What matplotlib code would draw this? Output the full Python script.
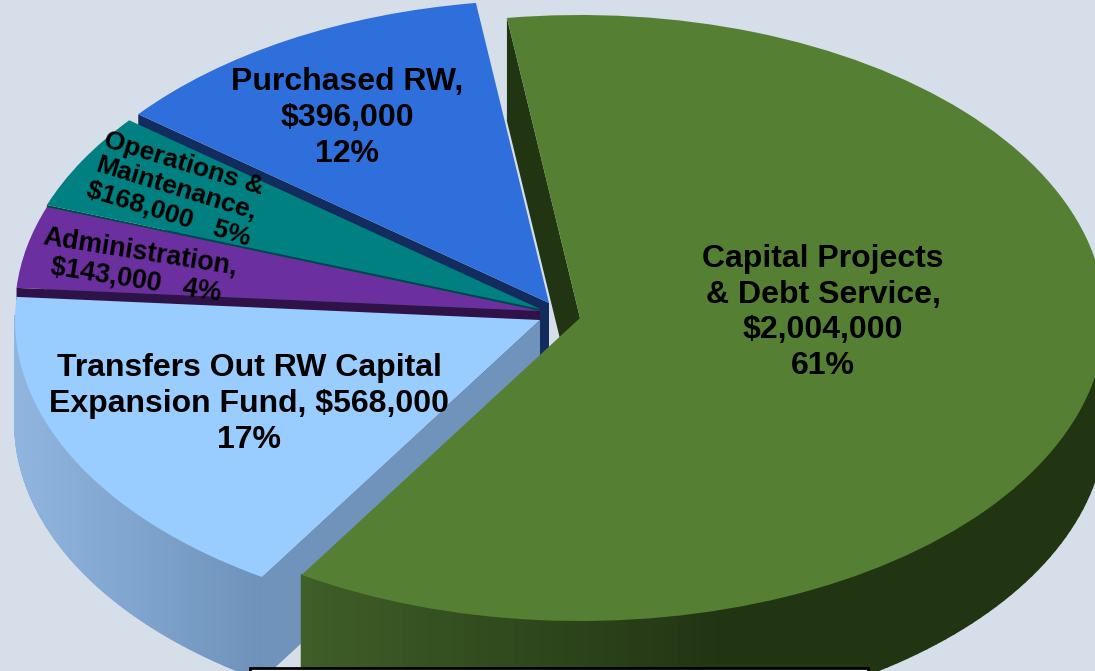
import numpy as np
import matplotlib
matplotlib.use("Agg")
import matplotlib.pyplot as plt
from matplotlib.collections import PolyCollection
from matplotlib.colors import to_rgb
from matplotlib.patches import Polygon, Rectangle

# slices, clockwise from the top
names = ["Capital Projects", "Transfers Out", "Administration", "Operations", "Purchased RW"]
values = [2004000, 568000, 143000, 168000, 396000]

top_colors = ["#558033", "#99CCFF", "#6B2FA0", "#008080", "#2F6FDB"]
side_colors = ["#223513", "#7093BC", "#2F1247", "#004848", "#122C5E"]
# outer wall gradient, left to right in pixels
rim_start = ["#3F5E28", "#90B6E0", "#2F1247", "#004848", "#122C5E"]
rim_end = ["#223513", "#6E92BA", "#2F1247", "#004848", "#122C5E"]
rim_span = [(302, 720), (15, 262), (0, 1), (0, 1), (0, 1)]

# where each slice tip sits, in pixels
tips_px = [(580, 318), (540, 320), (540, 311), (540, 309), (549, 303)]

W, H = 1095, 671
RX, RY = 525.0, 303.0
DEPTH = 103 / RY
BG = "#D6DEE9"
FONT = ["Liberation Sans", "DejaVu Sans"]


def to_data(px, py):
    return (px - 580) / RX, (318 - py) / RY


def to_fig(px, py):
    return px / W, 1 - py / H


def rim_point(w, deg):
    t = np.radians(deg)
    return w.center[0] + np.cos(t), w.center[1] + np.sin(t)


fig = plt.figure(figsize=(W / 100, H / 100), dpi=100, facecolor=BG)
ax = fig.add_axes([0, 0, 1, 1])

wedges = ax.pie(values, startangle=98, counterclock=False, colors=top_colors,
                wedgeprops={"linewidth": 0})[0]

# back slices first, the green one last
draw_order = [4, 3, 2, 1, 0]
z = 1
for i in draw_order:
    w = wedges[i]
    w.set_center(to_data(*tips_px[i]))
    cx, cy = w.center

    # straight cut wall under the clockwise-first edge
    rx, ry = rim_point(w, w.theta2)
    ax.add_patch(Polygon([(rx, ry), (cx, cy), (cx, cy - DEPTH), (rx, ry - DEPTH)],
                         closed=True, facecolor=side_colors[i], linewidth=0, zorder=z))
    z += 1

    # curved outer wall, only the part facing the viewer
    deg = np.linspace(w.theta1, w.theta2, 160)
    deg = deg[np.sin(np.radians(deg)) < 0.02]
    if len(deg) > 1:
        c0, c1 = np.array(to_rgb(rim_start[i])), np.array(to_rgb(rim_end[i]))
        quads, cols = [], []
        for a, b in zip(deg[:-1], deg[1:]):
            x0, y0 = rim_point(w, a)
            x1, y1 = rim_point(w, b)
            quads.append([(x0, y0), (x1, y1), (x1, y1 - DEPTH), (x0, y0 - DEPTH)])
            xm = (x0 + x1) / 2 * RX + 580
            f = np.clip((xm - rim_span[i][0]) / (rim_span[i][1] - rim_span[i][0]), 0, 1)
            cols.append(c0 + (c1 - c0) * f)
        # thick edges so the strips overlap and no seams show
        ax.add_collection(PolyCollection(quads, facecolors=cols, edgecolors=cols,
                                         linewidths=1.3, zorder=z))
        z += 1

    w.set_zorder(z)
    z += 1

ax.set_aspect("auto")
ax.set_xlim(-580 / RX, (W - 580) / RX)
ax.set_ylim((318 - H) / RY, 318 / RY)
ax.set_axis_off()

# labels
fig.text(*to_fig(823, 312.5), "Capital Projects\n& Debt Service,\n$2,004,000\n61%",
         ha="center", va="center", fontsize=23, fontweight="bold", family=FONT,
         linespacing=1.26, color="black")
fig.text(*to_fig(347, 118), "Purchased RW,\n$396,000\n12%",
         ha="center", va="center", fontsize=23, fontweight="bold", family=FONT,
         linespacing=1.26, color="black")
fig.text(*to_fig(249, 404), "Transfers Out RW Capital\nExpansion Fund, $568,000\n17%",
         ha="center", va="center", fontsize=23, fontweight="bold", family=FONT,
         linespacing=1.26, color="black")
fig.text(*to_fig(176, 189), "Operations &\nMaintenance,\n$168,000   5%",
         ha="center", va="center", fontsize=19, fontweight="bold", family=FONT,
         linespacing=1.13, rotation=-17, rotation_mode="anchor", color="black")
fig.text(*to_fig(138, 266), "Administration,\n$143,000   4%",
         ha="center", va="center", fontsize=19.3, fontweight="bold", family=FONT,
         linespacing=1.13, rotation=-9, rotation_mode="anchor", color="black")

# top of the box that is cut off by the image edge
fig.add_artist(Rectangle((250 / W, -0.02), 618 / W, 0.02 + (H - 668) / H,
                         transform=fig.transFigure, facecolor="white",
                         edgecolor="black", linewidth=2, zorder=5))

fig.savefig("out.png", dpi=100, facecolor=BG)
